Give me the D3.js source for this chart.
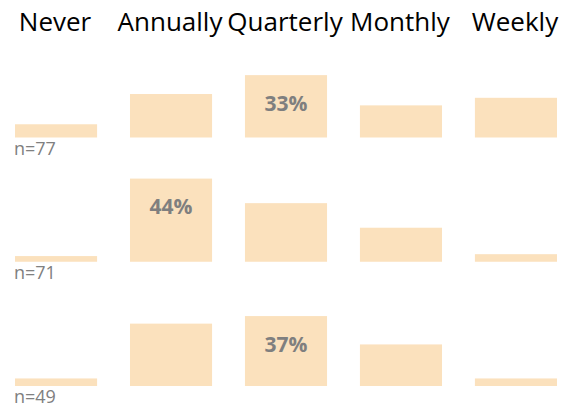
<!DOCTYPE html>
<html>
<head>
<meta charset="utf-8">
<script src="https://cdn.jsdelivr.net/npm/d3@7"></script>
<style>
  body { margin: 0; background: #fff; }
  svg { display: block; }
</style>
</head>
<body>
<svg></svg>
<script>
// frequency categories (columns)
const categories = ["Never", "Annually", "Quarterly", "Monthly", "Weekly"];

// sample size of each row
const rowCounts = [77, 71, 49];

// percent per category, one array per row
const row1 = [7, 23, 33, 17, 21];
const row2 = [3, 44, 31, 18, 4];
const row3 = [4, 33, 37, 22, 4];
const rows = [row1, row2, row3];

var w = 576;
var h = 407;

let svg = d3.select("svg")
  .attr("width", w)
  .attr("height", h);

let xScale = d3.scaleBand()
  .domain(categories)
  .range([15, 557])
  .paddingInner(0.286)
  .paddingOuter(0);

// bar height in px for a percent
let hScale = d3.scaleLinear()
  .domain([0, 100])
  .range([0, 189]);

// baseline of each row
let rowScale = d3.scaleLinear()
  .domain([0, rows.length - 1])
  .range([137.5, 386]);

const barColor = "#fbe1bd";
const fontFam = "'Segoe UI', 'Open Sans', sans-serif";

// column headers
svg.selectAll("text.header")
  .data(categories)
  .enter()
  .append("text")
  .attr("class", "header")
  .attr("x", function(d){ return xScale(d) + xScale.bandwidth() / 2 - 1; })
  .attr("y", 30.5)
  .attr("text-anchor", "middle")
  .style("font-family", fontFam)
  .style("font-size", "26px")
  .style("fill", "#000")
  .text(function(d){ return d; });

rows.forEach(function(vals, i){
  let base = rowScale(i);
  let g = svg.append("g");
  let data = categories.map(function(c, j){ return {cat: c, v: vals[j]}; });
  let maxV = d3.max(vals);

  g.selectAll("rect")
    .data(data)
    .enter()
    .append("rect")
    .attr("x", function(d){ return xScale(d.cat); })
    .attr("y", function(d){ return base - hScale(d.v); })
    .attr("width", xScale.bandwidth())
    .attr("height", function(d){ return hScale(d.v); })
    .attr("fill", barColor);

  // label only the biggest bar
  g.selectAll("text.pct")
    .data(data.filter(function(d){ return d.v == maxV; }))
    .enter()
    .append("text")
    .attr("class", "pct")
    .attr("x", function(d){ return xScale(d.cat) + xScale.bandwidth() / 2; })
    .attr("y", function(d){ return base - hScale(d.v) + 35.5; })
    .attr("text-anchor", "middle")
    .style("font-family", fontFam)
    .style("font-weight", "bold")
    .style("font-size", "21px")
    .style("fill", "#7f7f7f")
    .text(function(d){ return d.v + "%"; });

  g.append("text")
    .attr("x", 14)
    .attr("y", base + 17)
    .style("font-family", fontFam)
    .style("font-size", "18px")
    .style("fill", "#808080")
    .text("n=" + rowCounts[i]);
});
</script>
</body>
</html>
